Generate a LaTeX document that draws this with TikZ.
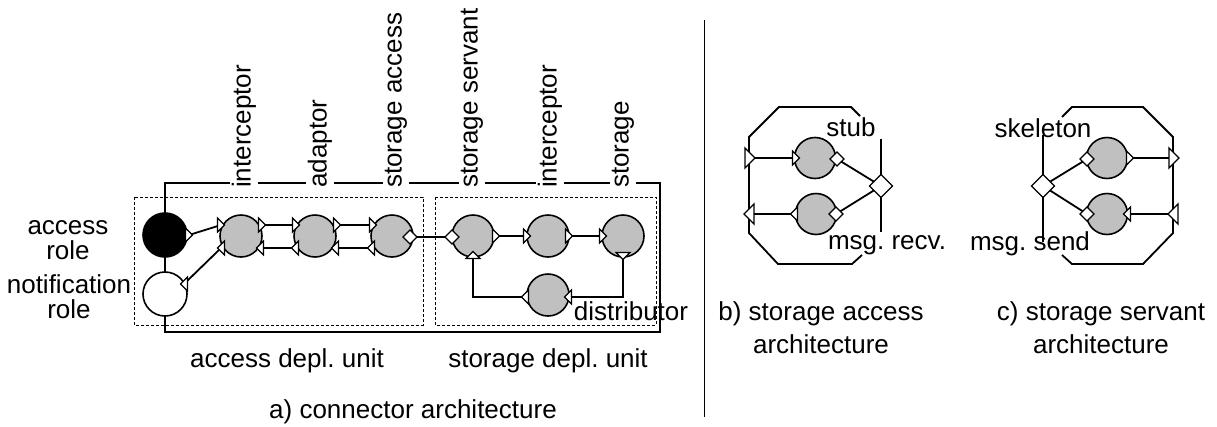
\documentclass[tikz,border=0pt]{standalone}
\usepackage{fontspec}
\setmainfont{Liberation Sans}
\frenchspacing
\definecolor{compgray}{RGB}{192,192,192}
\tikzset{
  % small port triangles (y axis points down in this picture)
  trR/.pic={\draw[line width=1.2pt, fill=white] (-3.5,-7) -- (3.5,0) -- (-3.5,7) -- cycle;},
  trL/.pic={\draw[line width=1.2pt, fill=white] (3.5,-7) -- (-3.5,0) -- (3.5,7) -- cycle;},
  trU/.pic={\draw[line width=1.2pt, fill=white] (-7,3.5) -- (0,-3.5) -- (7,3.5) -- cycle;},
  trD/.pic={\draw[line width=1.2pt, fill=white] (-7,-3.5) -- (0,3.5) -- (7,-3.5) -- cycle;},
  bigtrR/.pic={\draw[line width=1.3pt, fill=white] (-5,-10) -- (5,0) -- (-5,10) -- cycle;},
  bigtrL/.pic={\draw[line width=1.3pt, fill=white] (5,-10) -- (-5,0) -- (5,10) -- cycle;},
  dm/.pic={\draw[line width=1.2pt, fill=white] (-7,0) -- (0,-7) -- (7,0) -- (0,7) -- cycle;},
  bigdm/.pic={\draw[line width=1.3pt, fill=white] (-11.5,0) -- (0,-11.5) -- (11.5,0) -- (0,11.5) -- cycle;},
}
\begin{document}
\begin{tikzpicture}[x=1pt,y=-1pt,
  every node/.style={font=\fontsize{26}{30}\selectfont, inner sep=0pt},
  wire/.style={line width=1.8pt},
  unitbox/.style={line width=0.9pt, dash pattern=on 3pt off 2pt},
  comp/.style={circle, draw, line width=1.6pt, fill=compgray, minimum size=42pt, inner sep=0pt},
  rolecirc/.style={comp, minimum size=44pt},
  toplabel/.style={rotate=90, anchor=west, fill=white, inner sep=2pt},
]
\useasboundingbox (0,0) rectangle (1217,426);

% ---------------- a) connector architecture ----------------
\draw[unitbox] (134,197) rectangle (423,325);
\draw[unitbox] (435,197) rectangle (656,325);
\draw[wire] (165,183) rectangle (660,332);

% port positions
\coordinate (aout) at (189,235);
\coordinate (nin)  at (184,284);
\coordinate (g1lt) at (221,225); \coordinate (g1lb) at (221,248);
\coordinate (g1rt) at (262,225); \coordinate (g1rb) at (260,248);
\coordinate (g2lt) at (296,225); \coordinate (g2lb) at (295,248);
\coordinate (g2rt) at (337,225); \coordinate (g2rb) at (335,248);
\coordinate (g3lt) at (373,225); \coordinate (g3lb) at (371,248);
\coordinate (g3rd) at (410,237);
\coordinate (g4ld) at (452,237); \coordinate (g4r) at (496,236); \coordinate (g4b) at (473,255);
\coordinate (g5l)  at (527,236); \coordinate (g5r) at (569,236);
\coordinate (g6l)  at (603,236); \coordinate (g6b) at (623,256);
\coordinate (g7r)  at (568,297); \coordinate (g7l) at (525,297);

% connectors
\draw[wire] (aout) -- (g1lt);
\draw[wire] (nin) -- (g1lb);
\draw[wire] (g1rt) -- (g2lt);
\draw[wire] (g2lb) -- (g1rb);
\draw[wire] (g2rt) -- (g3lt);
\draw[wire] (g3lb) -- (g2rb);
\draw[wire] (g3rd) -- (g4ld);
\draw[wire] (g4r) -- (g5l);
\draw[wire] (g5r) -- (g6l);
\draw[wire] (g6b) |- (g7r);
\draw[wire] (g7l) -| (g4b);

% components
\node[rolecirc, fill=black] (A) at (165,235) {};
\node[rolecirc, fill=white] (N) at (165,294) {};
\node[comp] (G1) at (241,236) {};
\node[comp] (G2) at (315,236) {};
\node[comp] (G3) at (392,236) {};
\node[comp] (G4) at (473,236) {};
\node[comp] (G5) at (548,236) {};
\node[comp] (G6) at (623,236) {};
\node[comp] (G7) at (548,295) {};

% ports
\pic at (aout) {trR};
\pic at (nin) {trL};
\pic at (g1lt) {trR}; \pic at (g1lb) {trL}; \pic at (g1rt) {trR}; \pic at (g1rb) {trL};
\pic at (g2lt) {trR}; \pic at (g2lb) {trL}; \pic at (g2rt) {trR}; \pic at (g2rb) {trL};
\pic at (g3lt) {trR}; \pic at (g3lb) {trL}; \pic at (g3rd) {dm};
\pic at (g4ld) {dm}; \pic at (g4r) {trR}; \pic at (g4b) {trU};
\pic at (g5l) {trR}; \pic at (g5r) {trR};
\pic at (g6l) {trR}; \pic at (g6b) {trD};
\pic at (g7r) {trL}; \pic at (g7l) {trL};

% component names
\node[toplabel] (l1) at (244,190) {interceptor};
\node[toplabel] (l2) at (320,190) {adaptor};
\node[toplabel] (l3) at (396,190) {storage access};
\node[toplabel] (l4) at (472,190) {storage servant};
\node[toplabel] (l5) at (550,190) {interceptor};
\node[toplabel] (l6) at (623,190) {storage};
\node[anchor=base] (l7) at (631,320) {distributor};

\node[align=center, anchor=base, font=\fontsize{26}{25}\selectfont] (ar) at (68,259) {access\\role};
\node[align=center, anchor=base, font=\fontsize{26}{25}\selectfont] (nr) at (69,318) {notification\\role};
\node[anchor=base] (au) at (287,367) {access depl. unit};
\node[anchor=base] (su) at (548,367) {storage depl. unit};
\node[anchor=base] (capa) at (413,418) {a) connector architecture};

% separator
\draw[line width=1pt] (704,20) -- (704,417);

% ---------------- b) storage access architecture ----------------
\draw[wire] (860,116) -- (851,107) -- (779,107) -- (749,137) -- (749,233) -- (778,264) -- (852,264) -- (862,255);
\coordinate (bl1) at (750,158); \coordinate (b1l) at (796,158);
\coordinate (bl2) at (749,214); \coordinate (b2l) at (794,214);
\coordinate (b1r) at (837,159); \coordinate (b2r) at (836,214);
\coordinate (bd) at (881,186);
\coordinate (bdt) at (881,139); \coordinate (bdb) at (881,232);
\draw[wire] (bl1) -- (b1l);
\draw[wire] (b2l) -- (bl2);
\draw[wire] (b1r) -- (bd);
\draw[wire] (b2r) -- (bd);
\draw[wire] (bdt) -- (bdb);
\node[comp, minimum size=41pt] (B1) at (815,158) {};
\node[comp, minimum size=41pt] (B2) at (816,214) {};
\pic at (bl1) {bigtrR}; \pic at (b1l) {trR};
\pic at (bl2) {bigtrL}; \pic at (b2l) {trL};
\pic at (b1r) {dm}; \pic at (b2r) {dm};
\pic at (bd) {bigdm};
\node[anchor=base] (stub) at (851,136) {stub};
\node[anchor=base] (recv) at (887,249) {msg. recv.};
\node[align=center, anchor=base, font=\fontsize{26}{33}\selectfont] (capb) at (821,353) {b) storage access\\architecture};

% ---------------- c) storage servant architecture ----------------
\draw[wire] (1062,117) -- (1072,107) -- (1143,107) -- (1173,137) -- (1173,233) -- (1143,264) -- (1072,264) -- (1062,255);
\coordinate (c1r) at (1130,158); \coordinate (cr1) at (1174,158);
\coordinate (c2r) at (1127,214); \coordinate (cr2) at (1173,214);
\coordinate (c1l) at (1087,159); \coordinate (c2l) at (1087,214);
\coordinate (cd) at (1043,186);
\coordinate (cdt) at (1043,135); \coordinate (cdb) at (1043,242);
\draw[wire] (c1r) -- (cr1);
\draw[wire] (cr2) -- (c2r);
\draw[wire] (cd) -- (c1l);
\draw[wire] (cd) -- (c2l);
\draw[wire] (cdt) -- (cdb);
\node[comp, minimum size=41pt] (C1) at (1107,158) {};
\node[comp, minimum size=41pt] (C2) at (1107,214) {};
\pic at (c1r) {trR}; \pic at (cr1) {bigtrR};
\pic at (c2r) {trL}; \pic at (cr2) {bigtrL};
\pic at (c1l) {dm}; \pic at (c2l) {dm};
\pic at (cd) {bigdm};
\node[anchor=base] (skel) at (1043,137) {skeleton};
\node[anchor=base] (send) at (1030,250) {msg. send};
\node[align=center, anchor=base, font=\fontsize{26}{33}\selectfont] (capc) at (1101,353) {c) storage servant\\architecture};
\end{tikzpicture}
\end{document}
